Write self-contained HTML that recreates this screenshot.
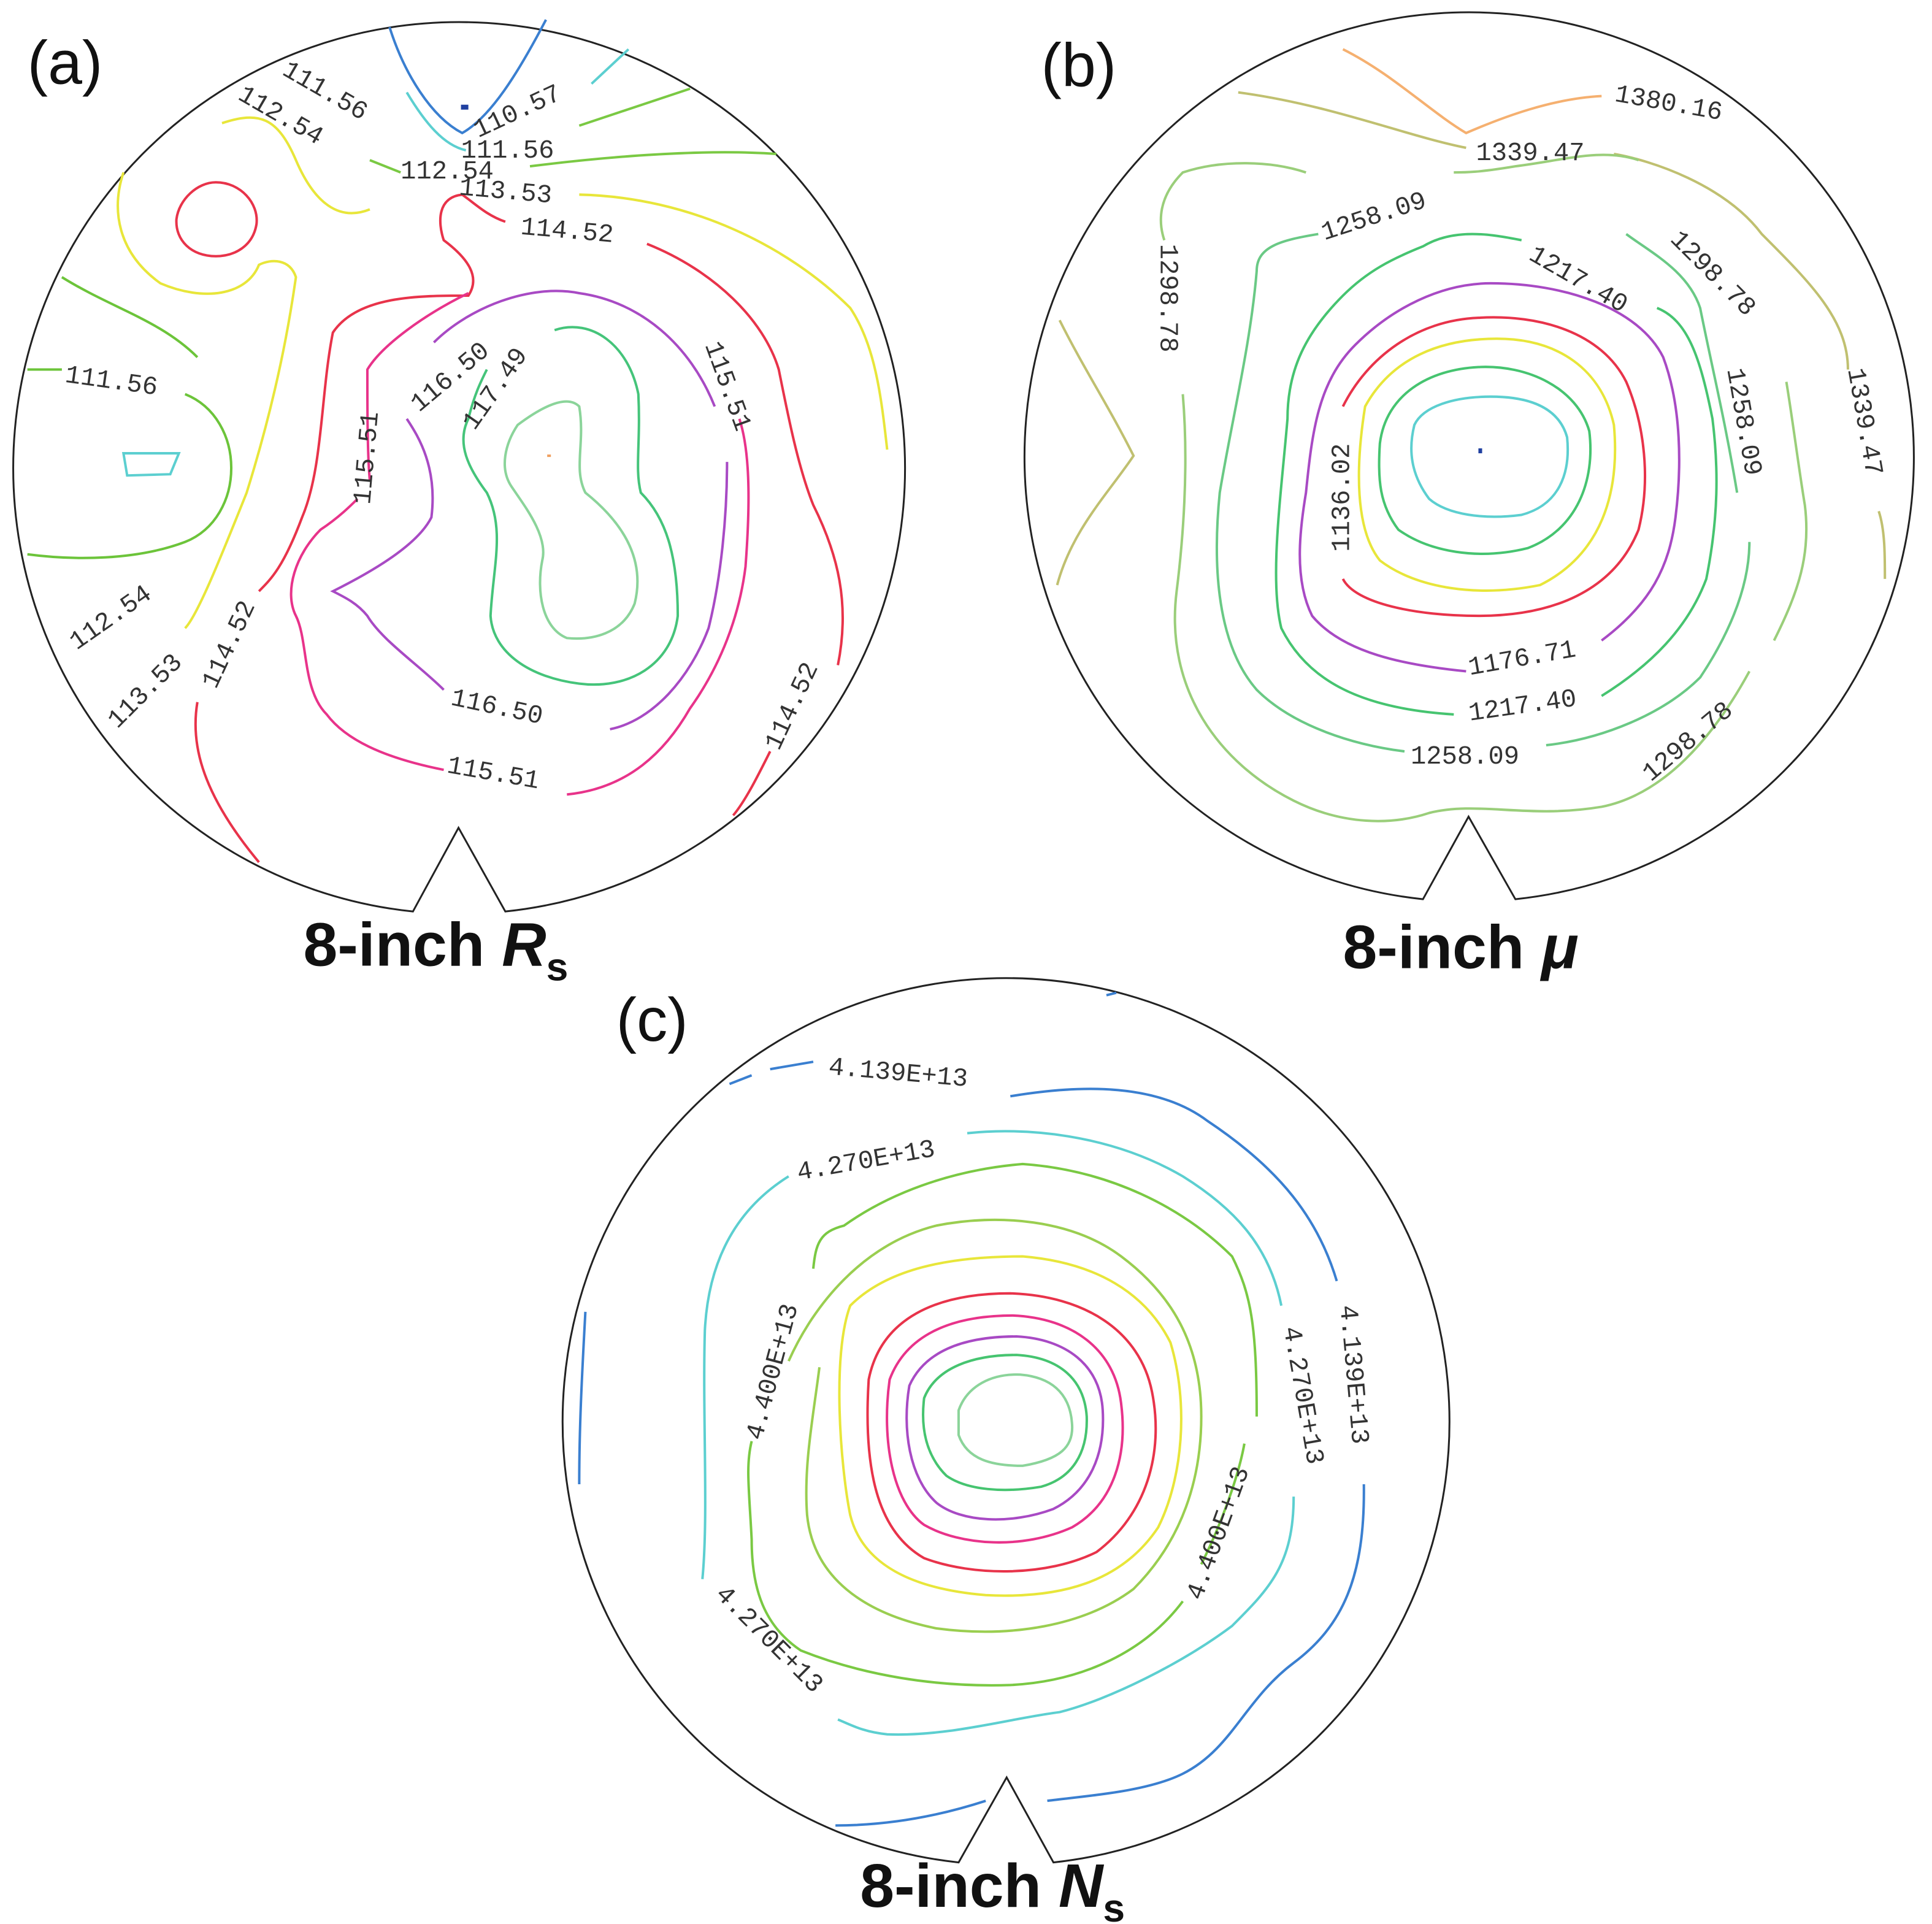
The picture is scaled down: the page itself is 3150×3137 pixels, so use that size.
<!DOCTYPE html>
<html><head><meta charset="utf-8"><style>html,body{margin:0;padding:0;background:#fff}svg{display:block}</style></head><body>
<svg width="3150" height="3137" viewBox="0 0 1568 1562" xmlns="http://www.w3.org/2000/svg" font-family="Liberation Mono, monospace">
<g fill="none" stroke="#222" stroke-width="1.5">
<path d="M335,740 A362,362 0 1 1 410,740 L372,672 Z"/>
<path d="M1155,730 A361,361 0 1 1 1230,730 L1192,663 Z"/>
<path d="M778,1512 A360,360 0 1 1 855,1512 L817,1443 Z"/>
</g>
<g font-family="Liberation Sans, sans-serif" font-size="50" fill="#111">
<text x="22" y="68">(a)</text><text x="845" y="70">(b)</text><text x="500" y="845">(c)</text>
</g>
<g font-family="Liberation Sans, sans-serif" font-size="50" font-weight="bold" fill="#111">
<text x="246" y="784">8-inch <tspan font-style="italic">R</tspan><tspan font-size="32" dy="12">s</tspan></text>
<text x="1090" y="786">8-inch <tspan font-style="italic">μ</tspan></text>
<text x="698" y="1548">8-inch <tspan font-style="italic">N</tspan><tspan font-size="32" dy="12">s</tspan></text>
</g>
<!-- (a) contours -->
<g fill="none" stroke-width="2">
<path stroke="#3a7fd0" d="M316,22 C328,60 350,95 375,108 C398,95 420,60 443,16"/>
<path stroke="#5ccfd0" d="M330,75 C345,100 360,118 378,122 M480,68 L510,40"/>
<path stroke="#7ac943" d="M300,130 L325,140 M430,135 C470,130 560,120 630,125 M470,102 L560,72"/>
<path stroke="#6cc43a" d="M22,300 L50,300 M150,320 C200,340 200,420 150,440 C110,455 60,455 22,450 M50,225 C90,250 130,260 160,290"/>
<path stroke="#5ccfd0" d="M100,368 L145,368 L138,385 L103,386 Z"/>
<path stroke="#e8e63a" d="M180,100 C210,90 225,95 240,130 C255,165 275,180 300,170 M100,140 C90,170 95,205 130,230 C165,245 200,240 210,215 C220,210 235,210 240,225 C235,260 225,320 200,400 C180,450 160,500 150,510 M470,158 C560,160 640,200 690,250 C710,280 715,320 720,365"/>
<path stroke="#e8334a" d="M175,148 C195,148 210,165 208,182 C205,200 190,208 175,208 C155,208 142,195 143,178 C145,162 160,148 175,148 Z"/>
<path stroke="#e8334a" d="M410,180 C395,175 385,165 375,158 C355,160 355,180 360,195 C380,210 390,225 380,240 C340,240 290,240 270,270 C260,320 262,380 245,420 C230,460 220,470 210,480 M525,198 C580,220 620,260 632,300 C640,340 648,380 660,410 C680,450 690,490 680,540 M160,570 C155,600 160,640 210,700 M625,610 C615,630 605,650 595,662"/>
<path stroke="#e8338a" d="M380,238 C345,255 310,280 298,300 C298,330 298,370 300,390 M600,340 C610,370 608,420 605,460 C600,500 585,540 560,575 C540,610 510,640 460,645 M360,625 C310,615 280,600 265,580 C245,560 250,520 240,500 C230,480 240,450 260,430 C275,420 285,410 290,405"/>
<path stroke="#a84ac4" d="M352,278 C380,250 430,230 470,238 C520,245 560,280 580,330 M590,375 C590,420 585,470 575,510 C560,550 530,585 495,592 M360,560 C340,540 310,520 298,500 C290,490 280,485 270,480 C310,460 340,440 350,420 C355,380 340,355 330,340"/>
<path stroke="#45c47a" d="M450,268 C480,258 510,280 518,320 C520,360 515,380 520,400 C540,420 550,450 550,500 C545,540 510,560 470,555 C430,550 400,530 398,500 C400,460 410,430 395,400 C380,380 370,360 380,340 C385,320 390,310 395,300"/>
<path stroke="#8bd49a" d="M420,345 C440,330 460,320 470,330 C475,360 465,380 475,400 C500,420 525,450 515,490 C505,515 480,520 460,518 C440,510 435,480 440,455 C445,435 425,410 415,395 C405,380 410,360 420,345 Z"/>
<path stroke="#f0a060" d="M444,370 l3,0"/>
<path stroke="#2040a0" stroke-width="4" d="M374,87 l6,0"/>
</g>
<g font-size="21" fill="#333">
<text transform="translate(228,60) rotate(30)">111.56</text>
<text transform="translate(192,80) rotate(30)">112.54</text>
<text transform="translate(388,112) rotate(-25)">110.57</text>
<text x="374" y="128">111.56</text>
<text x="325" y="145">112.54</text>
<text x="372" y="158" transform="rotate(5 372 158)">113.53</text>
<text x="422" y="190" transform="rotate(5 422 190)">114.52</text>
<text transform="translate(52,310) rotate(8)">111.56</text>
<text transform="translate(62,528) rotate(-35)">112.54</text>
<text transform="translate(95,592) rotate(-45)">113.53</text>
<text transform="translate(175,560) rotate(-65)">114.52</text>
<text transform="translate(300,410) rotate(-85)">115.51</text>
<text transform="translate(340,335) rotate(-40)">116.50</text>
<text transform="translate(385,350) rotate(-55)">117.49</text>
<text transform="translate(572,280) rotate(70)">115.51</text>
<text transform="translate(365,572) rotate(12)">116.50</text>
<text transform="translate(362,627) rotate(10)">115.51</text>
<text transform="translate(632,610) rotate(-65)">114.52</text>
</g>
<!-- (b) contours -->
<g fill="none" stroke-width="2">
<path stroke="#f5b070" d="M1090,40 C1130,60 1160,90 1190,108 C1220,95 1260,80 1300,78"/>
<path stroke="#c0c070" d="M1005,75 C1080,85 1140,110 1190,120 M1310,125 C1340,130 1400,150 1430,190 C1470,230 1500,260 1500,300 M1525,415 C1530,430 1530,450 1530,470 M860,260 C880,300 900,330 920,370 C900,400 870,430 858,475"/>
<path stroke="#9ace7a" d="M1060,140 C1030,130 990,130 960,140 C940,160 940,180 945,195 M960,320 C965,380 960,440 955,480 C945,560 990,620 1050,650 C1090,670 1130,670 1160,660 C1200,650 1240,665 1300,655 C1350,645 1390,600 1420,545 M1440,520 C1460,480 1470,450 1465,410 C1460,380 1455,340 1450,310 M1330,130 C1300,120 1270,130 1230,135 C1200,140 1190,140 1180,140"/>
<path stroke="#6ac985" d="M1070,190 C1040,195 1020,200 1020,220 C1015,280 1000,340 990,400 C985,450 985,520 1020,560 C1050,590 1100,605 1140,610 M1255,605 C1300,600 1350,580 1380,550 C1400,520 1420,480 1420,440 M1410,400 C1400,340 1390,300 1380,250 C1370,220 1340,205 1320,190"/>
<path stroke="#46c470" d="M1235,195 C1210,190 1180,185 1155,200 C1130,210 1110,220 1090,240 C1060,270 1045,300 1045,340 C1040,400 1030,470 1040,510 C1060,550 1100,575 1180,580 M1300,565 C1340,540 1370,510 1385,470 C1395,420 1395,380 1390,340 C1380,290 1370,260 1345,250"/>
<path stroke="#a84ac4" d="M1100,280 C1130,250 1170,230 1210,230 C1270,230 1330,250 1350,290 C1365,330 1365,380 1360,420 C1355,460 1340,490 1300,520 M1190,545 C1140,540 1090,530 1065,500 C1050,470 1055,430 1060,400 C1065,350 1070,310 1100,280"/>
<path stroke="#e8334a" d="M1090,330 C1110,290 1150,260 1200,258 C1250,255 1300,270 1320,310 C1335,345 1340,390 1330,430 C1310,480 1260,500 1200,500 C1150,500 1100,490 1090,470"/>
<path stroke="#e8e63a" d="M1108,330 C1130,290 1170,275 1215,275 C1265,275 1300,300 1310,345 C1315,400 1300,450 1250,475 C1200,485 1150,478 1120,455 C1100,430 1100,380 1108,330 Z"/>
<path stroke="#46c470" d="M1120,360 C1125,320 1160,300 1200,298 C1240,296 1280,315 1290,350 C1295,390 1280,430 1240,445 C1200,455 1160,448 1135,430 C1120,410 1118,390 1120,360 Z"/>
<path stroke="#5ccfd0" d="M1148,345 C1155,330 1180,322 1210,322 C1240,322 1265,330 1272,355 C1275,385 1265,410 1235,418 C1205,422 1175,418 1160,405 C1145,385 1143,365 1148,345 Z"/>
<path stroke="#2040a0" stroke-width="4" d="M1200,366 l3,0"/>
</g>
<g font-size="21" fill="#333">
<text transform="translate(1310,82) rotate(10)">1380.16</text>
<text x="1198" y="130">1339.47</text>
<text transform="translate(1075,195) rotate(-18)">1258.09</text>
<text transform="translate(1240,210) rotate(30)">1217.40</text>
<text transform="translate(1355,195) rotate(45)">1298.78</text>
<text transform="translate(942,198) rotate(90)">1298.78</text>
<text transform="translate(1402,300) rotate(80)">1258.09</text>
<text transform="translate(1500,300) rotate(80)">1339.47</text>
<text transform="translate(1095,448) rotate(-90)">1136.02</text>
<text transform="translate(1193,548) rotate(-10)">1176.71</text>
<text transform="translate(1193,585) rotate(-8)">1217.40</text>
<text x="1145" y="620">1258.09</text>
<text transform="translate(1340,635) rotate(-40)">1298.78</text>
</g>
<!-- (c) contours -->
<g fill="none" stroke-width="2">
<path stroke="#3a7fd0" d="M592,880 L610,873 M625,868 L660,862 M820,890 C880,880 940,880 980,910 C1040,950 1070,990 1085,1040 M1107,1205 C1108,1280 1090,1320 1050,1350 C1010,1380 1000,1420 960,1440 C930,1455 880,1458 850,1462 M800,1462 C760,1475 720,1482 678,1482 M475,1065 C472,1120 470,1160 470,1205"/>
<path stroke="#5ccfd0" d="M785,920 C830,915 900,920 960,955 C1000,980 1030,1010 1040,1060 M1050,1215 C1050,1270 1030,1290 1000,1320 C960,1350 900,1380 860,1390 C820,1395 770,1410 720,1408 C700,1406 690,1400 680,1396 M570,1282 C575,1230 570,1150 572,1080 C575,1020 600,980 640,955"/>
<path stroke="#7ac943" d="M660,1030 C662,1010 665,1000 685,995 C720,970 770,950 830,945 C900,950 960,980 1000,1020 C1015,1050 1020,1075 1020,1150 M1010,1172 C1005,1200 990,1240 975,1270 M960,1300 C930,1340 880,1365 820,1368 C760,1370 700,1360 650,1340 C620,1320 610,1290 610,1250 C608,1210 605,1190 610,1170"/>
<path stroke="#9ace50" d="M640,1105 C660,1060 700,1010 760,995 C810,985 870,990 910,1020 C950,1050 975,1090 975,1150 C975,1200 960,1250 920,1290 C880,1320 820,1330 760,1322 C700,1310 660,1280 655,1230 C652,1190 660,1150 665,1110"/>
<path stroke="#e8e63a" d="M690,1060 C720,1030 770,1020 830,1020 C890,1025 930,1050 950,1090 C965,1140 960,1200 940,1240 C910,1285 860,1298 800,1295 C740,1290 700,1270 690,1230 C682,1190 675,1100 690,1060 Z"/>
<path stroke="#e8334a" d="M705,1120 C715,1070 760,1050 820,1050 C880,1052 925,1080 935,1130 C945,1180 930,1230 890,1260 C850,1280 790,1280 750,1265 C715,1245 700,1200 705,1120 Z"/>
<path stroke="#e8338a" d="M722,1120 C735,1085 770,1068 822,1068 C870,1070 905,1095 910,1140 C915,1180 905,1220 870,1240 C830,1258 780,1255 750,1238 C725,1220 715,1170 722,1120 Z"/>
<path stroke="#a84ac4" d="M738,1125 C750,1098 780,1085 825,1085 C865,1087 893,1108 895,1145 C897,1180 885,1210 855,1225 C820,1238 780,1236 760,1220 C738,1200 732,1160 738,1125 Z"/>
<path stroke="#46c470" d="M750,1135 C760,1110 790,1100 825,1100 C860,1102 880,1120 882,1150 C883,1180 870,1200 845,1207 C815,1212 785,1210 768,1198 C752,1182 747,1160 750,1135 Z"/>
<path stroke="#8bd49a" d="M778,1145 C785,1125 805,1115 828,1116 C852,1118 868,1130 870,1155 C872,1175 860,1185 830,1190 C805,1190 785,1185 778,1165 Z"/>
<path stroke="#3a7fd0" d="M898,808 l8,-2"/>
</g>
<g font-size="21" fill="#333">
<text transform="translate(672,872) rotate(5)">4.139E+13</text>
<text transform="translate(648,958) rotate(-10)">4.270E+13</text>
<text transform="translate(618,1170) rotate(-75)">4.400E+13</text>
<text transform="translate(1042,1078) rotate(80)">4.270E+13</text>
<text transform="translate(1088,1060) rotate(85)">4.139E+13</text>
<text transform="translate(975,1300) rotate(-70)">4.400E+13</text>
<text transform="translate(580,1295) rotate(45)">4.270E+13</text>
</g>
</svg>
</body></html>
